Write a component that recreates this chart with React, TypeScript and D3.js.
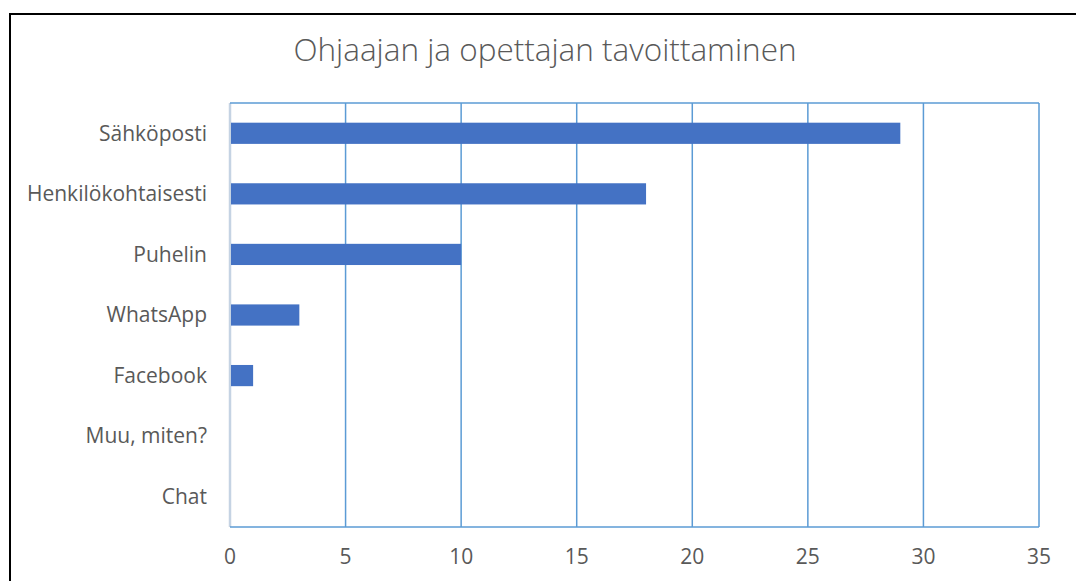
import * as d3 from "d3";
import { useEffect, useRef } from "react";

// chart data
const categories = ["Sähköposti", "Henkilökohtaisesti", "Puhelin", "WhatsApp", "Facebook", "Muu, miten?", "Chat"];
const values = [29, 18, 10, 3, 1, 0, 0];
const xTicks = [0, 5, 10, 15, 20, 25, 30, 35];
const title = "Ohjaajan ja opettajan tavoittaminen";

export default function App() {
    const svgRef = useRef<SVGSVGElement>(null);

    const width = 1076,
        height = 581,
        margin = { top: 103, right: 37, bottom: 54, left: 230 };

    useEffect(() => {
        const svg = d3.select(svgRef.current);
        svg.selectAll("*").remove();

        const x = d3.scaleLinear().domain([0, 35]).range([margin.left, width - margin.right]);
        const y = d3.scaleBand().domain(categories).range([margin.top, height - margin.bottom]).paddingInner(0.65).paddingOuter(0.325);

        // outer frame
        svg.append("rect")
            .attr("x", 10).attr("y", 14)
            .attr("width", width + 20).attr("height", height + 20)
            .attr("fill", "white")
            .attr("stroke", "black")
            .attr("stroke-width", 2);

        // title
        svg.append("text")
            .attr("x", 545).attr("y", 61)
            .attr("text-anchor", "middle")
            .attr("fill", "#595959")
            .style("font-family", "'Open Sans', sans-serif")
            .style("font-weight", 300)
            .style("font-size", "31.5px")
            .text(title);

        // gridlines
        svg.append("g")
            .selectAll("line")
            .data(xTicks)
            .enter().append("line")
            .attr("x1", d => x(d)).attr("x2", d => x(d))
            .attr("y1", margin.top).attr("y2", height - margin.bottom)
            .attr("stroke", d => d === 0 ? "#c5d3e3" : "#5b9bd5")
            .attr("stroke-width", d => d === 0 ? 2.5 : 1.5);

        // top and bottom border
        [margin.top, height - margin.bottom].forEach(yy => {
            svg.append("line")
                .attr("x1", x(0)).attr("x2", x(35))
                .attr("y1", yy).attr("y2", yy)
                .attr("stroke", "#5b9bd5")
                .attr("stroke-width", 1.5);
        });

        // bars
        svg.append("g")
            .selectAll("rect")
            .data(values)
            .enter().append("rect")
            .attr("x", x(0) + 1)
            .attr("y", (d, i) => y(categories[i])!)
            .attr("width", d => Math.max(0, x(d) - x(0) - 1))
            .attr("height", y.bandwidth())
            .attr("fill", "#4472c4");

        // category labels
        svg.append("g")
            .selectAll("text")
            .data(categories)
            .enter().append("text")
            .attr("x", 207)
            .attr("y", d => y(d)! + y.bandwidth() / 2)
            .attr("dy", "0.35em")
            .attr("text-anchor", "end")
            .attr("fill", "#595959")
            .style("font-family", "'Open Sans', sans-serif")
            .style("font-size", "21px")
            .text(d => d);

        // x tick labels
        svg.append("g")
            .selectAll("text")
            .data(xTicks)
            .enter().append("text")
            .attr("x", d => x(d))
            .attr("y", 557)
            .attr("dy", "0.35em")
            .attr("text-anchor", "middle")
            .attr("fill", "#595959")
            .style("font-family", "'Open Sans', sans-serif")
            .style("font-size", "21px")
            .text(d => d);
    }, []);

    return (
        <svg
            ref={svgRef}
            width={width}
            height={height}
            style={{ position: "absolute", left: 0, top: 0, display: "block" }}
        />
    );
}
